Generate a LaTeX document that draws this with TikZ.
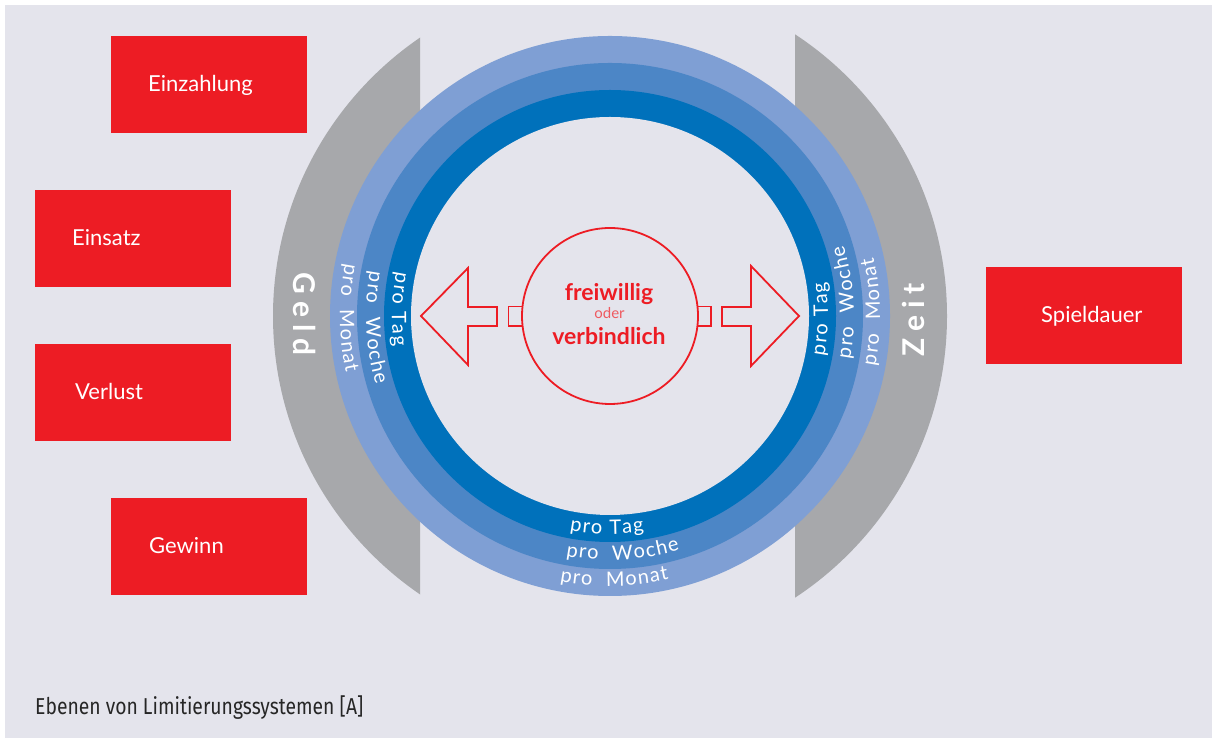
\documentclass[tikz,border=0pt]{standalone}
\usepackage{fontspec}
\setmainfont{Lato}
\newfontfamily\capfont{Fira Sans}[FakeStretch=0.84]
\usetikzlibrary{decorations.text}
\definecolor{bgc}{HTML}{E4E4EC}
\definecolor{grayc}{HTML}{A7A8AB}
\definecolor{lightb}{HTML}{7F9FD4}
\definecolor{midb}{HTML}{4C86C6}
\definecolor{darkb}{HTML}{0071BB}
\definecolor{redc}{HTML}{ED1C24}
\definecolor{odc}{HTML}{EF5A60}
\definecolor{capc}{HTML}{262626}
\newcommand{\ringtext}[3]{%
  \path[decorate,decoration={text along path,
    text={|\normalfont\upshape\fontsize{20}{24}\selectfont\kern1.3pt\relax|#3},
    text color=white, text align=left}]
    ([shift={(#1:#2)}]C) arc[start angle=#1, end angle=#1+70, radius=#2];}
\begin{document}
\begin{tikzpicture}[x=1pt,y=1pt,
  redbox/.style={fill=redc, draw=none, minimum width=196pt, minimum height=97pt, inner sep=0pt},
  boxtext/.style={text=white, anchor=base west, inner sep=0pt, font=\fontsize{22}{26}\selectfont},
  bigword/.style={text=white, inner sep=0pt, font=\bfseries\fontsize{30}{32}\selectfont},
  redline/.style={draw=redc, line width=1.8pt, line join=miter},
  ctext/.style={text=redc, anchor=base, inner sep=0pt, font=\bfseries\fontsize{23}{26}\selectfont}]
\useasboundingbox (0,0) rectangle (1212,743);
\fill[white] (0,0) rectangle (1212,743);
\fill[bgc] (5,5) rectangle (1212,738);
\coordinate (C) at (610,427);
% gray crescents
\begin{scope}
  \clip (0,0) rectangle (420,743);
  \fill[grayc] (C) circle[radius=337];
\end{scope}
\begin{scope}
  \clip (795,0) rectangle (1212,743);
  \fill[grayc] (C) circle[radius=337];
\end{scope}
% rings
\fill[lightb] (C) circle[radius=280];
\fill[midb] (C) circle[radius=253];
\fill[darkb] (C) circle[radius=226];
\fill[bgc] (C) circle[radius=199];
% ring texts
\ringtext{168}{218}{pro Tag}
\ringtext{169}{244}{pro~~Woche}
\ringtext{168.5}{270}{pro~~Monat}
\ringtext{-11}{218}{pro Tag}
\ringtext{-10.5}{244}{pro~~Woche}
\ringtext{-11}{270}{pro~~Monat}
\ringtext{259}{218}{pro Tag}
\ringtext{259.3}{244}{pro~~Woche}
\ringtext{259}{270}{pro~~Monat}
% Geld / Zeit
\node[bigword, rotate=-90] (geld) at (305,429) {G\kern7pt e\kern7pt l\kern7pt d};
\node[bigword, rotate=90] (zeit) at (913,423) {Z\kern7pt e\kern7pt i\kern7pt t};
% red boxes
\node[redbox] (b1) at (209,658.5) {};
\node[redbox] (b2) at (132.5,504.5) {};
\node[redbox] (b3) at (132.5,350.5) {};
\node[redbox] (b4) at (209,196.5) {};
\node[redbox] (b5) at (1084,427.5) {};
\node[boxtext] (t1) at (148,651) {Einzahlung};
\node[boxtext] (t2) at (72,497) {Einsatz};
\node[boxtext] (t3) at (75,343) {Verlust};
\node[boxtext] (t4) at (149,189) {Gewinn};
\node[boxtext] (t5) at (1041,420) {Spieldauer};
% arrows and squares
\draw[redline] (421,427) -- (468,475) -- (468,436) -- (497,436) -- (497,417) -- (468,417) -- (468,378) -- cycle;
\draw[redline] (799,427) -- (751,477) -- (751,436) -- (722,436) -- (722,417) -- (751,417) -- (751,377) -- cycle;
\draw[redline] (508.5,417) rectangle (522.5,436.5);
\draw[redline] (697.5,417) rectangle (711,436.5);
% centre circle
\node[draw=redc, line width=1.8pt, circle, minimum size=176pt, inner sep=0pt, fill=bgc] (mid) at (C) {};
\node[ctext] (fw) at (609,442) {freiwillig};
\node[text=odc, anchor=base, inner sep=0pt, font=\fontsize{15}{17}\selectfont] (od) at (609.5,424) {oder};
\node[ctext] (vb) at (609,398) {verbindlich};
% caption
\node[text=capc, anchor=base west, inner sep=0pt, font=\capfont\fontsize{23}{26}\selectfont] (cap) at (35,28) {Ebenen von Limitierungssystemen [A]};
\end{tikzpicture}
\end{document}
